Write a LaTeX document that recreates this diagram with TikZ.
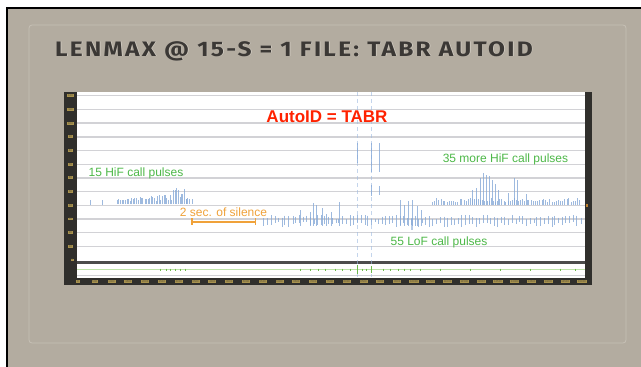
\documentclass[tikz,border=0pt]{standalone}
\usepackage{fontspec}
\setmainfont{Liberation Sans}
\newfontfamily\titlefont[LetterSpace=9]{Fira Sans}
\definecolor{slide}{HTML}{B3ACA0}
\definecolor{frameline}{HTML}{C6C0B5}
\definecolor{titlecol}{HTML}{3B3835}
\definecolor{titleshadow}{HTML}{D6D0C6}
\definecolor{gridc}{HTML}{D2D2D6}
\definecolor{axisdark}{HTML}{302F2C}
\definecolor{tickgold}{HTML}{A8924E}
\definecolor{pulse}{HTML}{86A9D8}
\definecolor{labgreen}{HTML}{4DB848}
\definecolor{labred}{HTML}{FF2200}
\definecolor{laborange}{HTML}{F0A23A}
\definecolor{trace}{HTML}{BEE3A8}
\definecolor{tracedot}{HTML}{6DB84C}
\newcommand{\titletext}{\scalebox{1.17}[1]{LENMAX @ 15-S = 1 FILE: TABR AUTOID}}
\tikzset{
  gridline/.style={gridc, line width=1.4pt},
  pulseline/.style={pulse, line width=0.6pt, opacity=0.8},
  vdash/.style={pulse!80, line width=0.6pt, dash pattern=on 4pt off 3pt, opacity=0.6},
  ticklab/.style={fill=tickgold, text=axisdark!70!tickgold, font=\fontsize{2.8}{2.8}\selectfont, inner xsep=0.8pt, inner ysep=0.5pt},
  greenlab/.style={text=labgreen, font=\fontsize{12}{12}\selectfont, inner sep=0pt},
  titlestyle/.style={anchor=base west, font=\titlefont\bfseries\fontsize{21}{21}\selectfont, inner sep=0pt},
}
\begin{document}
\begin{tikzpicture}[x=1pt,y=-1pt]
\useasboundingbox (0,0) rectangle (641,367);
\fill[white] (0,0) rectangle (641,367);
\fill[slide] (7,8) rectangle (641,367);
\draw[black, line width=1.5pt] (7,367) -- (7,8) -- (641,8);
\draw[frameline, line width=0.8pt, rounded corners=3pt] (29,25) rectangle (626,343);
% title
\node[titlestyle, text=titleshadow] (tshadow) at (55.7,56.7) {\titletext};
\node[titlestyle, text=titlecol] (title) at (55,56) {\titletext};
% chart frame
\fill[axisdark] (64,92) rectangle (592,285);
\fill[white] (77,92) rectangle (585,277.5);
\foreach \k in {0,...,11} {
  \draw[gridline] (77,{95.7+13.7*\k}) -- (585,{95.7+13.7*\k});
}
\draw[black!70, line width=2.2pt] (77,262.5) -- (585,262.5);
\draw[gridc, line width=0.6pt] (77,275.5) -- (585,275.5);
% left tick labels
\foreach \lab [count=\k from 0] in {120,110,100,90,80,70,60,50,40,30,20,10} {
  \node[ticklab] (yl\k) at (70.5,{95.7+13.7*\k}) {\lab};
}
\node[ticklab] (yl12) at (72.5,260) {0};
% bottom tick labels
\foreach \k in {0,...,30} {
  \pgfmathtruncatemacro{\v}{500*\k}
  \node[ticklab] (xl\k) at ({78+16.8*\k},281.5) {\v};
}
\fill[laborange!80!black] (586,204) rectangle (588,207);
% vertical dashed lines
\draw[vdash] (357,92) -- (357,277);
\draw[vdash] (371,92) -- (371,277);
\draw[pulseline] (371,143) -- (371,172);
\draw[pulseline] (379,143) -- (379,172);
\draw[pulseline] (357,143) -- (357,163);
\draw[pulseline] (371,185) -- (371,196);
\draw[pulseline] (379,186) -- (379,195);
% pulses
\pgfmathsetseed{4242}
% HiF cluster 1
\draw[pulseline] (90,200) -- (90,205);
\draw[pulseline] (102,200) -- (102,205);
\foreach \i in {0,...,44} {
  \pgfmathsetmacro{\xx}{117+\i*1.6+0.8*rnd}
  \pgfmathsetmacro{\hh}{3+(\i/44)^2*15*rnd+3*rnd}
  \draw[pulseline] (\xx,204) -- (\xx,{204-\hh});
}
\foreach \xx in {186,189,192} { \draw[pulseline] (\xx,199) -- (\xx,204); }
% LoF pulses
\foreach \i in {0,...,88} {
  \pgfmathsetmacro{\xx}{263+\i*3.6+1.2*rnd}
  \pgfmathsetmacro{\hh}{2+4*rnd}
  \pgfmathsetmacro{\hb}{1+5*rnd}
  \draw[pulseline] (\xx,{221-\hh}) -- (\xx,{221+\hb});
}
\foreach \xx/\tp in {300/210,313/203,316/205,322/208,339/202,331/212,400/200,404/205,408/201,412/200,417/206,421/210,310/212,326/214} {
  \draw[pulseline] (\xx,\tp) -- (\xx,226);
}
\draw[pulse, line width=2pt, opacity=0.6] (412,218) -- (412,230);
% HiF cluster 2
\foreach \i in {0,...,70} {
  \pgfmathsetmacro{\xx}{432+\i*2.1+0.6*rnd}
  \pgfmathsetmacro{\hh}{3+4*rnd}
  \draw[pulseline] (\xx,205) -- (\xx,{205-\hh});
}
\foreach \xx/\tp in {472/190,476/188,480/178,483/173,486/175,489/176,492/180,495/184,498/190,514/178,517/180,508/193,526/194} {
  \draw[pulseline] (\xx,\tp) -- (\xx,205);
}
% lower panel trace
\draw[trace, line width=0.9pt] (77,269.5) -- (585,269.5);
\foreach \xx in {160,166,170,175,180,185,300,310,318,325,335,342,350,362,366,383,390,398,404,410,420,440,470,500,530,560,575} {
  \draw[tracedot, line width=0.7pt] (\xx,268.5) -- (\xx,270.5);
}
\draw[tracedot, line width=0.9pt] (357,265) -- (357,274);
\draw[tracedot, line width=0.9pt] (371,266) -- (371,273);
% labels
\node[text=labred, font=\bfseries\fontsize{17}{17}\selectfont, inner sep=0pt] (autoid) at (327,117) {AutoID = TABR};
\node[greenlab] (hif1) at (136,173) {15 HiF call pulses};
\node[greenlab] (hif2) at (505.5,159) {35 more HiF call pulses};
\node[greenlab] (lof) at (439,242) {55 LoF call pulses};
\node[text=laborange, font=\fontsize{12}{12}\selectfont, inner sep=0pt] (silence) at (223.5,212) {2 sec. of silence};
\coordinate (sa) at (192,221.7);
\coordinate (sb) at (255.7,221.7);
\draw[laborange, line width=1.7pt] (sa) -- (sb);
\draw[laborange, line width=1.5pt] ([yshift=3.5pt]sa) -- ([yshift=-3.5pt]sa);
\draw[laborange, line width=1.5pt] ([yshift=3.5pt]sb) -- ([yshift=-3.5pt]sb);
\end{tikzpicture}
\end{document}
